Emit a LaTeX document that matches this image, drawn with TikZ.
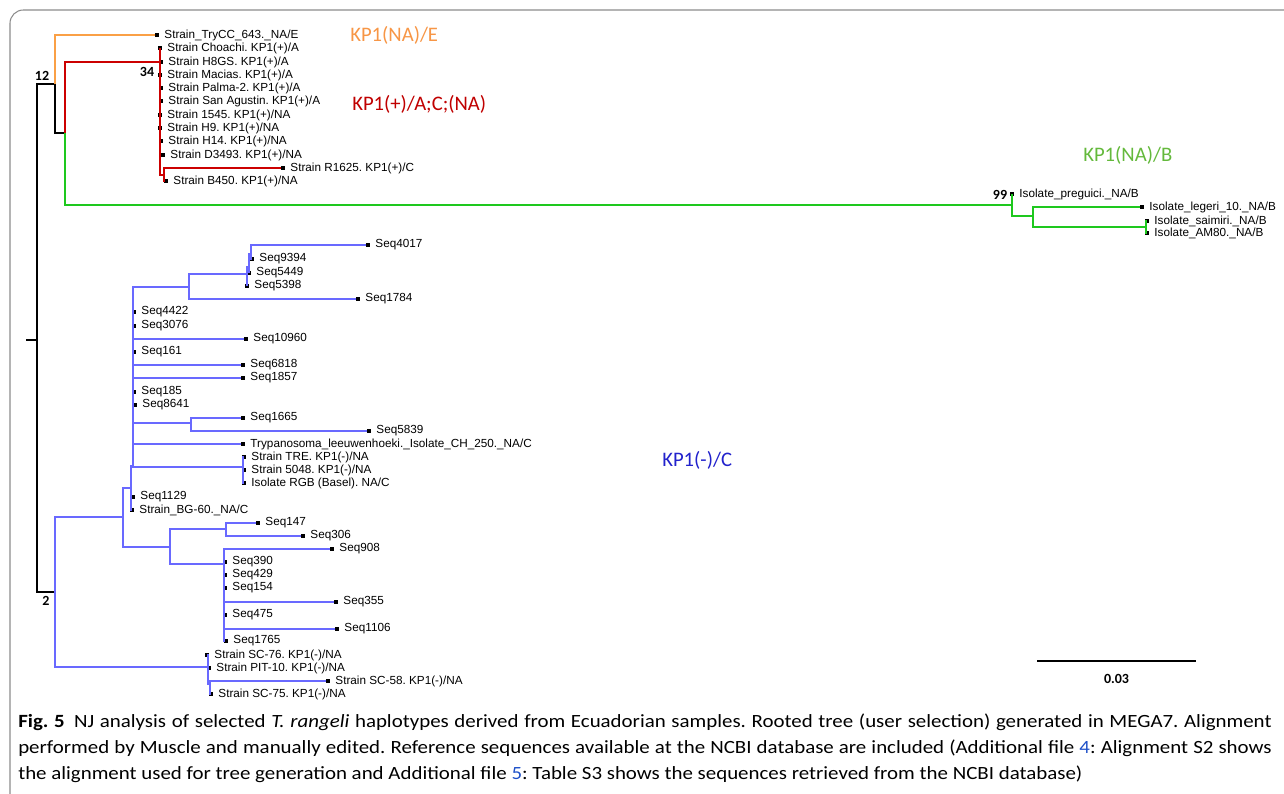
\documentclass[tikz,border=0pt]{standalone}
\usepackage{fontspec}
\setmainfont{Liberation Sans}
\newfontfamily\calfont{Carlito}
\newfontfamily\capfont[FakeStretch=1.12]{Carlito}
\usetikzlibrary{positioning}

\definecolor{orangeline}{RGB}{250,160,70}
\definecolor{redline}{RGB}{204,0,0}
\definecolor{greenline}{RGB}{30,200,30}
\definecolor{blueline}{RGB}{105,105,255}
\definecolor{orangetext}{RGB}{247,150,70}
\definecolor{redtext}{RGB}{192,0,0}
\definecolor{greentext}{RGB}{100,185,60}
\definecolor{bluetext}{RGB}{34,34,204}
\definecolor{linkblue}{RGB}{30,80,200}

\begin{document}
\frenchspacing
\begin{tikzpicture}[
  x=0.75pt, y=-0.75pt, label distance=4pt,
  br/.style={line width=1.8pt},
  tip/.style={fill=black, inner sep=0pt, minimum size=2.4pt},
  lab/.style={font=\fontsize{8.8}{9}\selectfont, inner sep=0pt},
  clade/.style={font=\calfont\fontsize{15.5}{16}\selectfont, anchor=west, inner sep=0pt},
  boot/.style={font=\calfont\bfseries\fontsize{10.5}{11}\selectfont, inner sep=0pt}
]
\useasboundingbox (0,0) rectangle (1284,793);
\clip (0,0) rectangle (1284,793);
\draw[black!45, line width=0.8pt, rounded corners=10pt] (10,10) rectangle (1310,820);

% internal nodes
\coordinate (stub) at (26,340);
\coordinate (root) at (37,340);
\coordinate (nA) at (55,84);
\coordinate (nRG) at (65,133);
\coordinate (n34) at (160,62);
\coordinate (nD) at (160,161);
\coordinate (nE) at (164,175);
\coordinate (n99) at (1012,205);
\coordinate (nG2) at (1033,216);
\coordinate (nG3) at (1146,227);
\coordinate (nB) at (55,592);
\coordinate (nC) at (123,517);
\coordinate (nD1) at (131,488);
\coordinate (nP) at (133,466);
\coordinate (n4017) at (189,287);
\coordinate (nS1) at (247,274);
\coordinate (nS2) at (249,267);
\coordinate (nS3) at (251,254);
\coordinate (n1665) at (191,423);
\coordinate (nTRE) at (243,467);
\coordinate (nF) at (170,547);
\coordinate (n147) at (226,529);
\coordinate (n908) at (224,564);
\coordinate (nSC) at (208,667);
\coordinate (nSC2) at (210,684);

% tips: KP1(NA)/E and KP1(+)
\node[tip, label={[lab]right:Strain\_TryCC\_643.\_NA/E}] (tryc) at (157,35) {};
\node[tip, label={[lab]right:Strain Choachi. KP1(+)/A}] (choachi) at (160,48) {};
\node[tip, label={[lab]right:Strain H8GS. KP1(+)/A}] (h8gs) at (161,62) {};
\node[tip, label={[lab]right:Strain Macias. KP1(+)/A}] (macias) at (160,75) {};
\node[tip, label={[lab]right:Strain Palma-2. KP1(+)/A}] (palma) at (161,88) {};
\node[tip, label={[lab]right:Strain San Agustin. KP1(+)/A}] (sanag) at (161,101) {};
\node[tip, label={[lab]right:Strain 1545. KP1(+)/NA}] (s1545) at (160,115) {};
\node[tip, label={[lab]right:Strain H9. KP1(+)/NA}] (h9) at (160,128) {};
\node[tip, label={[lab]right:Strain H14. KP1(+)/NA}] (h14) at (161,141) {};
\node[tip, label={[lab]right:Strain D3493. KP1(+)/NA}] (d3493) at (163,155) {};
\node[tip, label={[lab]right:Strain R1625. KP1(+)/C}] (r1625) at (283,168) {};
\node[tip, label={[lab]right:Strain B450. KP1(+)/NA}] (b450) at (166,181) {};

% tips: KP1(NA)/B
\node[tip, label={[lab]right:Isolate\_preguici.\_NA/B}] (preguici) at (1012,194) {};
\node[tip, label={[lab]right:Isolate\_legeri\_10.\_NA/B}] (legeri) at (1142,207) {};
\node[tip, label={[lab]right:Isolate\_saimiri.\_NA/B}] (saimiri) at (1147,221) {};
\node[tip, label={[lab]right:Isolate\_AM80.\_NA/B}] (am80) at (1147,233) {};

% tips: KP1(-)
\node[tip, label={[lab]right:Seq4017}] (seq4017) at (368,245) {};
\node[tip, label={[lab]right:Seq9394}] (seq9394) at (252,259) {};
\node[tip, label={[lab]right:Seq5449}] (seq5449) at (249,273) {};
\node[tip, label={[lab]right:Seq5398}] (seq5398) at (247,286) {};
\node[tip, label={[lab]right:Seq1784}] (seq1784) at (358,299) {};
\node[tip, label={[lab]right:Seq4422}] (seq4422) at (134,312) {};
\node[tip, label={[lab]right:Seq3076}] (seq3076) at (134,326) {};
\node[tip, label={[lab]right:Seq10960}] (seq10960) at (246,339) {};
\node[tip, label={[lab]right:Seq161}] (seq161) at (134,352) {};
\node[tip, label={[lab]right:Seq6818}] (seq6818) at (243,365) {};
\node[tip, label={[lab]right:Seq1857}] (seq1857) at (243,378) {};
\node[tip, label={[lab]right:Seq185}] (seq185) at (134,392) {};
\node[tip, label={[lab]right:Seq8641}] (seq8641) at (135,405) {};
\node[tip, label={[lab]right:Seq1665}] (seq1665) at (243,418) {};
\node[tip, label={[lab]right:Seq5839}] (seq5839) at (369,431) {};
\node[tip, label={[lab]right:Trypanosoma\_leeuwenhoeki.\_Isolate\_CH\_250.\_NA/C}] (tleeu) at (243,444) {};
\node[tip, label={[lab]right:Strain TRE. KP1(-)/NA}] (tre) at (244,457) {};
\node[tip, label={[lab]right:Strain 5048. KP1(-)/NA}] (s5048) at (244,470) {};
\node[tip, label={[lab]right:Isolate RGB (Basel). NA/C}] (rgb) at (244,483) {};
\node[tip, label={[lab]right:Seq1129}] (seq1129) at (133,497) {};
\node[tip, label={[lab]right:Strain\_BG-60.\_NA/C}] (bg60) at (132,510) {};
\node[tip, label={[lab]right:Seq147}] (seq147) at (258,523) {};
\node[tip, label={[lab]right:Seq306}] (seq306) at (303,536) {};
\node[tip, label={[lab]right:Seq908}] (seq908) at (332,549) {};
\node[tip, label={[lab]right:Seq390}] (seq390) at (225,562) {};
\node[tip, label={[lab]right:Seq429}] (seq429) at (225,575) {};
\node[tip, label={[lab]right:Seq154}] (seq154) at (225,588) {};
\node[tip, label={[lab]right:Seq355}] (seq355) at (336,602) {};
\node[tip, label={[lab]right:Seq475}] (seq475) at (225,615) {};
\node[tip, label={[lab]right:Seq1106}] (seq1106) at (337,629) {};
\node[tip, label={[lab]right:Seq1765}] (seq1765) at (226,641) {};
\node[tip, label={[lab]right:Strain SC-76. KP1(-)/NA}] (sc76) at (207,655) {};
\node[tip, label={[lab]right:Strain PIT-10. KP1(-)/NA}] (pit10) at (209,668) {};
\node[tip, label={[lab]right:Strain SC-58. KP1(-)/NA}] (sc58) at (328,681) {};
\node[tip, label={[lab]right:Strain SC-75. KP1(-)/NA}] (sc75) at (211,694) {};

% backbone
\draw[br] (stub) -- (root);
\draw[br] (root) |- (nA);
\draw[br] (root) |- (nB);
\draw[br] (nA) |- (nRG);
\draw[br, orangeline] (nA) |- (tryc);
\draw[br, redline] (nRG) |- (n34);
\draw[br, greenline] (nRG) |- (n99);

% red clade
\foreach \t in {choachi,h8gs,macias,palma,sanag,s1545,h9,h14,nD}
  \draw[br, redline] (n34) |- (\t);
\draw[br, redline] (nD) |- (d3493);
\draw[br, redline] (nD) |- (nE);
\draw[br, redline] (nE) |- (r1625);
\draw[br, redline] (nE) |- (b450);

% green clade
\draw[br, greenline] (n99) |- (preguici);
\draw[br, greenline] (n99) |- (nG2);
\draw[br, greenline] (nG2) |- (legeri);
\draw[br, greenline] (nG2) |- (nG3);
\draw[br, greenline] (nG3) |- (saimiri);
\draw[br, greenline] (nG3) |- (am80);

% blue clade
\begin{scope}[br, blueline]
\draw (nB) |- (nC);
\draw (nB) |- (nSC);
\draw (nC) |- (nD1);
\draw (nC) |- (nF);
\draw (nD1) |- (nP);
\draw (nD1) |- (seq1129);
\draw (nD1) |- (bg60);
\foreach \t in {n4017,seq4422,seq3076,seq10960,seq161,seq6818,seq1857,seq185,seq8641,n1665,tleeu,nTRE}
  \draw (nP) |- (\t);
\draw (n4017) |- (nS1);
\draw (n4017) |- (seq1784);
\draw (nS1) |- (seq5398);
\draw (nS1) |- (nS2);
\draw (nS2) |- (seq5449);
\draw (nS2) |- (nS3);
\draw (nS3) |- (seq9394);
\draw (nS3) |- (seq4017);
\draw (n1665) |- (seq1665);
\draw (n1665) |- (seq5839);
\foreach \t in {tre,s5048,rgb}
  \draw (nTRE) |- (\t);
\draw (nF) |- (n147);
\draw (nF) |- (n908);
\draw (n147) |- (seq147);
\draw (n147) |- (seq306);
\foreach \t in {seq908,seq390,seq429,seq154,seq355,seq475,seq1106,seq1765}
  \draw (n908) |- (\t);
\draw (nSC) |- (sc76);
\draw (nSC) |- (pit10);
\draw (nSC) |- (nSC2);
\draw (nSC2) |- (sc58);
\draw (nSC2) |- (sc75);
\end{scope}

% bootstrap values
\node[boot] (b12) at (42,76) {12};
\node[boot] (b34) at (147,72) {34};
\node[boot] (b99) at (1000,195) {99};
\node[boot] (b2) at (46,601) {2};

% clade labels
\node[clade, text=orangetext] (kpE) at (350,35) {KP1(NA)/E};
\node[clade, text=redtext] (kpA) at (352,104) {KP1(+)/A;C;(NA)};
\node[clade, text=greentext] (kpB) at (1083,155) {KP1(NA)/B};
\node[clade, text=bluetext] (kpC) at (662,460) {KP1(-)/C};

% scale bar
\coordinate (sbl) at (1037,661);
\coordinate (sbr) at (1196,661);
\draw[line width=1.6pt] (sbl) -- (sbr) node[midway, below=9pt, boot] (sbtext) {0.03};

% caption
\node[anchor=north west, inner sep=0pt, text width=940pt, align=justify,
      font=\capfont\fontsize{14}{19.5}\selectfont] (caption) at (18,714)
  {\textbf{Fig.~5}\enspace NJ analysis of selected \textit{T. rangeli} haplotypes derived from Ecuadorian samples. Rooted tree (user selection) generated in MEGA7. Alignment\linebreak
   performed by Muscle and manually edited. Reference sequences available at the NCBI database are included (Additional file \textcolor{linkblue}{4}: Alignment S2 shows\linebreak
   the alignment used for tree generation and Additional file \textcolor{linkblue}{5}: Table S3 shows the sequences retrieved from the NCBI database)};
\end{tikzpicture}
\end{document}
